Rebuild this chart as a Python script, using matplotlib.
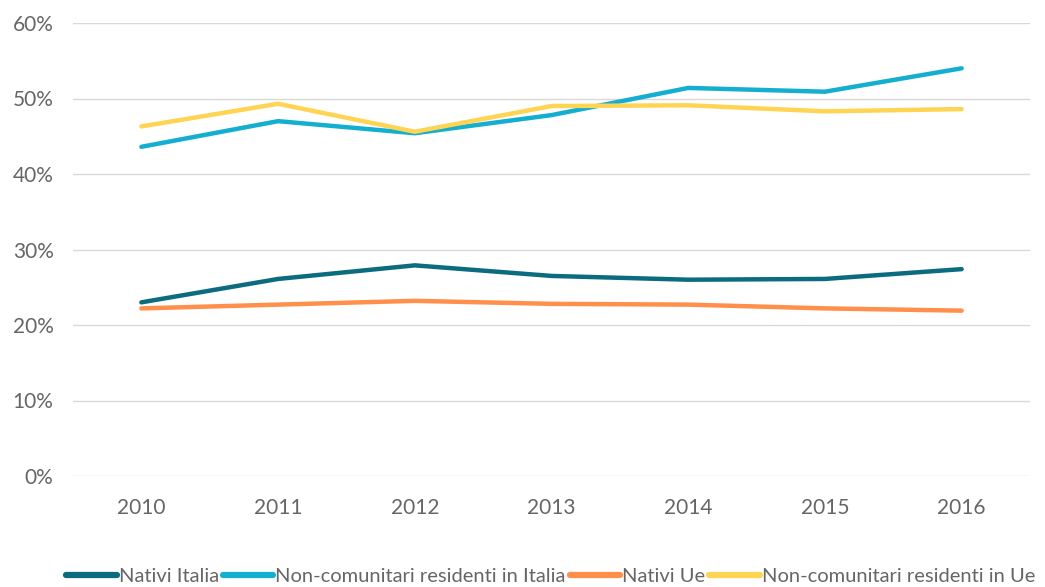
import matplotlib
matplotlib.use("Agg")
import matplotlib.pyplot as plt
from matplotlib.ticker import FuncFormatter

years = [2010, 2011, 2012, 2013, 2014, 2015, 2016]
nativi_italia = [23.0, 26.1, 27.9, 26.5, 26.0, 26.1, 27.4]
noncom_italia = [43.6, 47.0, 45.4, 47.8, 51.4, 50.9, 54.0]
nativi_ue = [22.2, 22.7, 23.2, 22.8, 22.7, 22.2, 21.9]
noncom_ue = [46.3, 49.3, 45.6, 49.0, 49.1, 48.3, 48.6]

series = [
    ("Nativi Italia", nativi_italia, "#0b6c80"),
    ("Non-comunitari residenti in Italia", noncom_italia, "#14aed1"),
    ("Nativi Ue", nativi_ue, "#ff8f4a"),
    ("Non-comunitari residenti in Ue", noncom_ue, "#ffd452"),
]

plt.rcParams["font.family"] = ["Lato", "DejaVu Sans"]

fig = plt.figure(figsize=(10.45, 5.87), dpi=100)
ax = fig.add_axes([73 / 1045, 1 - 476 / 587, (1030 - 73) / 1045, (476 - 23) / 587])

for label, vals, color in series:
    ax.plot(years, vals, color=color, lw=3.2, label=label, solid_capstyle="round",
            solid_joinstyle="round")

ax.set_xlim(2009.5, 2016.5)
ax.set_ylim(0, 60)
ax.set_yticks(range(0, 61, 10))
ax.yaxis.set_major_formatter(FuncFormatter(lambda v, p: f"{int(v)}%"))
ax.set_xticks(years)
ax.grid(axis="y", color="#d9d9d9", lw=1)
ax.set_axisbelow(True)
for s in ax.spines.values():
    s.set_visible(False)
ax.tick_params(axis="both", length=0, labelsize=15, colors="#666666")
ax.tick_params(axis="y", pad=14)
ax.tick_params(axis="x", pad=16)

leg = fig.legend(loc="lower center", bbox_to_anchor=(0.527, -0.028), ncol=4, frameon=False,
                 fontsize=14.5, handlelength=2.5, handletextpad=0.1, columnspacing=0.2,
                 labelcolor="#666666")
for h in leg.legend_handles:
    h.set_linewidth(4.5)

fig.savefig("out.png", dpi=100)
